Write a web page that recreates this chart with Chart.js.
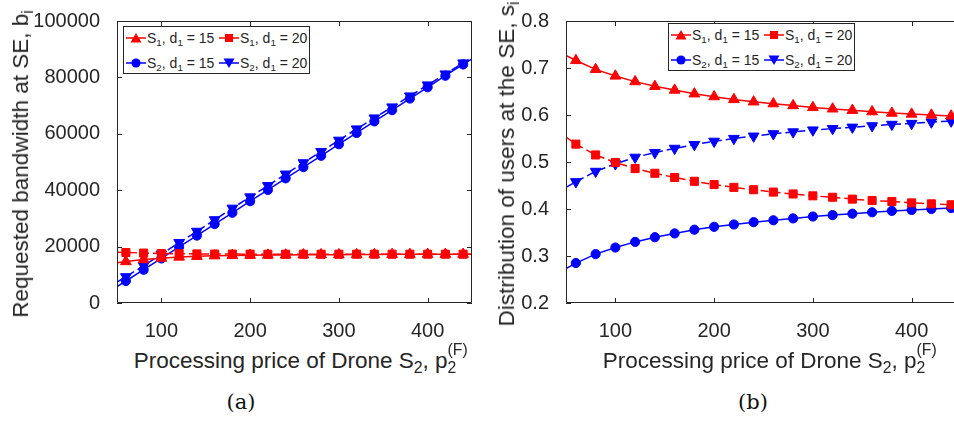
<!DOCTYPE html>
<html><head><meta charset="utf-8">
<script src="https://cdn.jsdelivr.net/npm/chart.js@4/dist/chart.umd.min.js"></script>
<style>
html,body{margin:0;padding:0;width:954px;height:422px;overflow:hidden;background:#fff;}
body{position:relative;font-family:"Liberation Sans",Arial,sans-serif;color:#262626;}
canvas{position:absolute;top:0;}
.t{position:absolute;white-space:nowrap;font-size:22.5px;line-height:26px;color:#262626;}
.sb{font-size:0.7em;position:relative;top:0.32em;}
.st{display:inline-block;position:relative;}
.sp{position:absolute;left:0;top:-0.72em;font-size:0.7em;}
.rot{transform:translate(-50%,-50%) rotate(-90deg);}
.cap{position:absolute;font-family:"DejaVu Serif","Liberation Serif",serif;font-size:21px;transform:translateX(-50%);color:#111;}
.leg{position:absolute;background:#fff;border:1px solid #262626;box-sizing:border-box;width:187px;height:48px;font-size:14px;}
.li{position:absolute;height:18px;line-height:18px;white-space:nowrap;}
.li svg{position:absolute;left:0;top:2px;}
.li span.tx{position:absolute;left:21px;top:0;}
</style></head>
<body>
<canvas id="ca" width="490" height="345" style="left:0;width:490px;height:345px"></canvas>
<canvas id="cb" width="500" height="345" style="left:480px;width:500px;height:345px"></canvas>

<div class="t rot" style="left:22px;top:164px">Requested bandwidth at SE, b<span class="sb">i</span></div>
<div class="t rot" style="left:508px;top:164px">Distribution of users at the SE, s<span class="sb">i</span></div>
<div class="t" style="left:295px;top:348px;transform:translateX(-50%)">Processing price of Drone S<span class="sb">2</span>, p<span class="st"><span class="sp">(F)</span><span class="sb">2</span></span></div>
<div class="t" style="left:764px;top:348px;transform:translateX(-50%)">Processing price of Drone S<span class="sb">2</span>, p<span class="st"><span class="sp">(F)</span><span class="sb">2</span></span></div>
<div class="cap" style="left:241px;top:390px">(a)</div>
<div class="cap" style="left:753px;top:390px">(b)</div>

<div class="leg" id="legA" style="left:123px;top:26px"></div>
<div class="leg" id="legB" style="left:668px;top:23px"></div>

<script>
// ---- data ----
const priceA = [50,60,80,100,120,140,160,180,200,220,240,260,280,300,320,340,360,380,400,420,440,450];
const bwS1d15 = [14300,14700,15400,15900,16300,16550,16750,16850,16950,17000,17050,17100,17150,17150,17200,17200,17250,17250,17300,17300,17300,17300];
const bwS1d20 = [18000,17900,17700,17550,17450,17400,17350,17350,17300,17300,17300,17300,17300,17300,17300,17300,17300,17300,17300,17300,17300,17300];
const bwS2d15 = [5800,7800,11800,15800,19900,23900,28000,32000,36100,40100,44200,48200,52200,56300,60300,64400,68400,72500,76500,80600,84600,86600];
const bwS2d20 = [7400,9300,13200,17300,21400,25400,29500,33600,37600,41600,45700,49700,53700,57700,61700,65600,69500,73400,77300,81200,85100,87000];

const priceB = [50,60,80,100,120,140,160,180,200,220,240,260,280,300,320,340,360,380,400,420,440,450];
const shS1d15 = [0.727,0.716,0.697,0.683,0.671,0.661,0.653,0.645,0.639,0.633,0.628,0.624,0.620,0.616,0.613,0.610,0.607,0.604,0.602,0.600,0.598,0.597];
const shS1d20 = [0.553,0.538,0.515,0.499,0.486,0.476,0.467,0.459,0.452,0.446,0.441,0.436,0.432,0.428,0.425,0.421,0.418,0.416,0.413,0.411,0.409,0.408];
const shS2d15 = [0.273,0.285,0.304,0.318,0.330,0.340,0.348,0.356,0.362,0.367,0.372,0.376,0.380,0.384,0.387,0.390,0.393,0.396,0.398,0.400,0.402,0.403];
const shS2d20 = [0.446,0.458,0.480,0.496,0.510,0.520,0.529,0.537,0.544,0.550,0.555,0.560,0.564,0.568,0.571,0.574,0.577,0.580,0.582,0.585,0.587,0.588];

const xTicks = [100,200,300,400];
const yTicksA = [0,20000,40000,60000,80000,100000];
const yTicksB = [0.2,0.3,0.4,0.5,0.6,0.7,0.8];
const markerX = [60,80,100,120,140,160,180,200,220,240,260,280,300,320,340,360,380,400,420,440];

const seriesStyle = [
  {label:'S<span class="sb">1</span>, d<span class="sb">1</span> = 15', color:'#ff0000', dash:[], shape:'triangle', rot:0, r:6.2},
  {label:'S<span class="sb">1</span>, d<span class="sb">1</span> = 20', color:'#ff0000', dash:[8,4], shape:'rect', rot:0, r:5.7},
  {label:'S<span class="sb">2</span>, d<span class="sb">1</span> = 15', color:'#0000ff', dash:[], shape:'circle', rot:0, r:4.6},
  {label:'S<span class="sb">2</span>, d<span class="sb">1</span> = 20', color:'#0000ff', dash:[8,4], shape:'triangle', rot:180, r:6.2}
];

const AX = '#262626';
const framePlugin = {
  id:'frame',
  afterDatasetsDraw(chart){
    const {ctx, chartArea:{left,right,top,bottom}, scales:{x,y}} = chart;
    ctx.save();
    ctx.strokeStyle = AX; ctx.lineWidth = 1;
    ctx.beginPath();
    ctx.rect(left+0.5, top+0.5, right-left-1, bottom-top-1);
    const tl = 5;
    x.ticks.forEach(t=>{
      const px = Math.round(x.getPixelForValue(t.value))+0.5;
      ctx.moveTo(px,bottom); ctx.lineTo(px,bottom-tl);
      ctx.moveTo(px,top); ctx.lineTo(px,top+tl);
    });
    y.ticks.forEach(t=>{
      const py = Math.round(y.getPixelForValue(t.value))+0.5;
      ctx.moveTo(left,py); ctx.lineTo(left+tl,py);
      ctx.moveTo(right,py); ctx.lineTo(right-tl,py);
    });
    ctx.stroke();
    ctx.restore();
  }
};

function makeChart(id, xs, ys, ymin, ymax, yTicks, yFmt, yWidth, padRight){
  const datasets = ys.map((vals,i)=>{
    const s = seriesStyle[i];
    return {
      data: xs.map((xv,k)=>({x:xv, y:vals[k]})),
      borderColor:s.color, backgroundColor:s.color, borderWidth:1.5,
      borderDash:s.dash, tension:0,
      pointStyle:s.shape, rotation:s.rot,
      pointRadius: c => (c.raw && markerX.includes(c.raw.x)) ? s.r : 0,
      pointHoverRadius:0,
      pointBorderWidth:1, pointBorderColor:s.color, pointBackgroundColor:s.color
    };
  });
  const font = {family:'"Liberation Sans", Arial, sans-serif', size:20};
  return new Chart(document.getElementById(id), {
    type:'line',
    data:{datasets},
    options:{
      responsive:false, animation:false, devicePixelRatio:1,
      layout:{padding:{left:0, top:21, right:padRight, bottom:0}},
      plugins:{legend:{display:false}, tooltip:{enabled:false}},
      scales:{
        x:{type:'linear', min:50, max:450,
           grid:{display:false}, border:{display:false},
           afterBuildTicks: sc => { sc.ticks = xTicks.map(v=>({value:v})); },
           afterFit: sc => { sc.height = 42; },
           ticks:{color:AX, font, padding:8, maxRotation:0, callback:v=>String(v)}},
        y:{type:'linear', min:ymin, max:ymax,
           grid:{display:false}, border:{display:false},
           afterBuildTicks: sc => { sc.ticks = yTicks.map(v=>({value:v})); },
           afterFit: sc => { sc.width = yWidth; },
           ticks:{color:AX, font, padding:9, callback:yFmt}}
      }
    },
    plugins:[framePlugin]
  });
}

makeChart('ca', priceA, [bwS1d15,bwS1d20,bwS2d15,bwS2d20], 0, 100000, yTicksA, v=>String(v), 117, 18);
makeChart('cb', priceB, [shS1d15,shS1d20,shS2d15,shS2d20], 0.2, 0.8, yTicksB, v=>Number(v).toFixed(1), 86, 19);

function markerSvg(s){
  const c = s.color;
  let m = '';
  if (s.shape==='triangle' && s.rot===0) m = `<polygon points="10,2 15.5,11.5 4.5,11.5" fill="${c}"/>`;
  else if (s.shape==='triangle') m = `<polygon points="4.5,2.5 15.5,2.5 10,12" fill="${c}"/>`;
  else if (s.shape==='rect') m = `<rect x="6" y="3" width="8" height="8" fill="${c}"/>`;
  else m = `<circle cx="10" cy="7" r="4.6" fill="${c}"/>`;
  const da = s.dash.length ? `stroke-dasharray="${s.dash.join(',')}"` : '';
  return `<svg width="20" height="14" viewBox="0 0 20 14"><line x1="0" y1="7" x2="20" y2="7" stroke="${c}" stroke-width="1.5" ${da}/>${m}</svg>`;
}
function buildLegend(id){
  const el = document.getElementById(id);
  const pos = [[2,2],[95,2],[2,27],[95,27]];
  seriesStyle.forEach((s,i)=>{
    const d = document.createElement('div');
    d.className='li';
    d.style.left = pos[i][0]+'px'; d.style.top = pos[i][1]+'px';
    d.innerHTML = markerSvg(s) + `<span class="tx">${s.label}</span>`;
    el.appendChild(d);
  });
}
buildLegend('legA'); buildLegend('legB');
</script>
</body></html>
